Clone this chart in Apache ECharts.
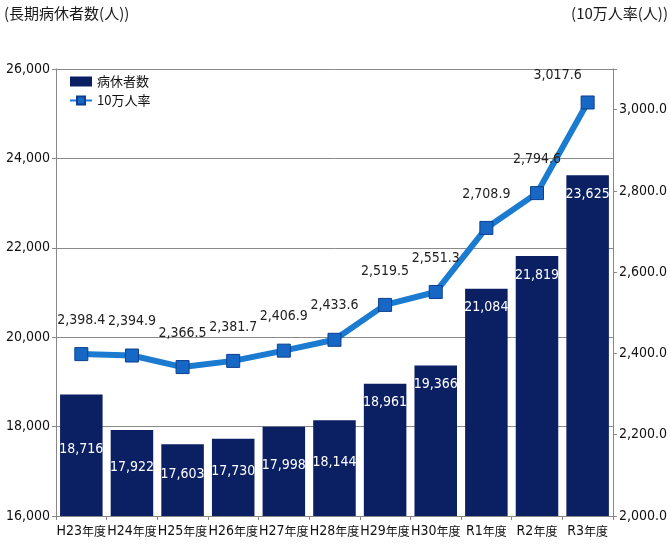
<!DOCTYPE html>
<html>
<head>
<meta charset="utf-8">
<script src="https://cdn.jsdelivr.net/npm/echarts@6/dist/echarts.min.js"></script>
<style>
  html, body { margin: 0; padding: 0; background: #ffffff; }
  #chart { width: 670px; height: 551px; }
</style>
</head>
<body>
<div id="chart"></div>
<script>
// 年度ごとの長期病休者数と10万人率
const categories = ['H23年度', 'H24年度', 'H25年度', 'H26年度', 'H27年度', 'H28年度', 'H29年度', 'H30年度', 'R1年度', 'R2年度', 'R3年度'];
const sickLeaveCounts = [18716, 17922, 17603, 17730, 17998, 18144, 18961, 19366, 21084, 21819, 23625];
const ratePer100k = [2398.4, 2394.9, 2366.5, 2381.7, 2406.9, 2433.6, 2519.5, 2551.3, 2708.9, 2794.6, 3017.6];
const leftTicks = [16000, 18000, 20000, 22000, 24000, 26000];
const rightTicks = [2000, 2200, 2400, 2600, 2800, 3000];

// 数字用には幅の狭い書体を優先し、入っていなければ Liberation Sans を使う
function pickFamily(candidates, fallback) {
  const ctx = document.createElement('canvas').getContext('2d');
  const sample = '26,000 2,398.4 H23';
  ctx.font = '14px monospace';
  const base = ctx.measureText(sample).width;
  for (const f of candidates) {
    ctx.font = "14px '" + f + "', monospace";
    if (Math.abs(ctx.measureText(sample).width - base) > 0.5) return "'" + f + "'";
  }
  return fallback;
}
const numFamily = pickFamily(['Liberation Sans Narrow', 'DejaVu Sans Condensed', 'Arial Narrow'], "'Liberation Sans'");
const narrow = numFamily + ", 'Liberation Sans', 'Noto Sans CJK JP', sans-serif";
const jp = "'Noto Sans CJK JP', sans-serif";
const BAR = '#0b1f63';
const LINE = '#1a7bd0';

const fmtInt = v => v.toLocaleString('en-US');
const fmtOne = v => v.toLocaleString('en-US', { minimumFractionDigits: 1, maximumFractionDigits: 1 });

// 低い棒は中央寄り、高い棒は上端寄りに数値を置く
const barData = sickLeaveCounts.map(v => ({
  value: v,
  label: v < 18900
    ? { position: 'inside', offset: [0, -6] }
    : { position: 'insideTop', distance: 12 }
}));

// 最終点のラベルは右端に収まるよう左へ寄せる
const lineData = ratePer100k.map((v, i) => (
  i === ratePer100k.length - 1
    ? { value: v, label: { position: 'top', offset: [-30, 7] } }
    : { value: v }
));

const chart = echarts.init(document.getElementById('chart'), null, { renderer: 'canvas' });
chart.setOption({
  animation: false,
  backgroundColor: '#ffffff',
  textStyle: { fontFamily: narrow },
  graphic: [
    { type: 'text', left: 4, top: 6, style: { text: '(長期病休者数(人))', font: "15px " + jp, fill: '#1a1a1a' } },
    { type: 'text', right: 2, top: 6, style: { text: '(10万人率(人))', font: "15px " + jp, fill: '#1a1a1a' } }
  ],
  legend: {
    left: 64,
    top: 70,
    orient: 'vertical',
    itemWidth: 22,
    itemHeight: 10,
    itemGap: 6,
    textStyle: { fontFamily: jp, fontSize: 13, color: '#111' },
    data: [
      { name: '病休者数', icon: 'rect' },
      { name: '10万人率' }
    ]
  },
  grid: { left: 56, right: 48, top: 69, bottom: 35, containLabel: false },
  xAxis: {
    type: 'category',
    data: categories,
    boundaryGap: true,
    axisLine: { lineStyle: { color: '#888', width: 1 } },
    axisTick: { show: true, alignWithLabel: false, length: 4, lineStyle: { color: '#888' } },
    axisLabel: {
      color: '#111', margin: 8, interval: 0,
      formatter: v => {
        const head = v.replace('年度', '');
        return '{a|' + head + '}{b|年度}';
      },
      rich: {
        a: { fontFamily: narrow, fontSize: 14, color: '#111' },
        b: { fontFamily: jp, fontSize: 12, color: '#111' }
      }
    }
  },
  yAxis: [
    {
      type: 'value',
      min: leftTicks[0],
      max: leftTicks[leftTicks.length - 1],
      interval: leftTicks[1] - leftTicks[0],
      axisLine: { show: true, lineStyle: { color: '#888' } },
      axisTick: { show: true, length: 4, lineStyle: { color: '#888' } },
      axisLabel: { fontFamily: narrow, fontSize: 14, color: '#111', margin: 6, formatter: fmtInt },
      splitLine: { show: true, lineStyle: { color: '#8a8a8a', width: 1 } }
    },
    {
      type: 'value',
      position: 'right',
      min: rightTicks[0],
      max: 3100,
      interval: rightTicks[1] - rightTicks[0],
      axisLine: { show: true, lineStyle: { color: '#888' } },
      axisTick: { show: true, length: 4, lineStyle: { color: '#888' } },
      axisLabel: {
        fontFamily: narrow, fontSize: 14, color: '#111', margin: 6,
        formatter: v => (rightTicks.includes(v) ? fmtOne(v) : '')
      },
      splitLine: { show: false }
    }
  ],
  series: [
    {
      name: '病休者数',
      type: 'bar',
      yAxisIndex: 0,
      data: barData,
      barCategoryGap: '16%',
      itemStyle: { color: BAR },
      label: {
        show: true,
        color: '#ffffff',
        fontFamily: narrow,
        fontSize: 14,
        formatter: p => fmtInt(p.value)
      },
      z: 2
    },
    {
      name: '10万人率',
      type: 'line',
      yAxisIndex: 1,
      data: lineData,
      symbol: 'rect',
      symbolSize: 13,
      lineStyle: { color: LINE, width: 6 },
      itemStyle: { color: '#1668c4', borderColor: '#0c3f8f', borderWidth: 1 },
      label: {
        show: true,
        position: 'top',
        distance: 20,
        color: '#222',
        fontFamily: narrow,
        fontSize: 14,
        formatter: p => fmtOne(p.value)
      },
      z: 3
    }
  ]
});
</script>
</body>
</html>
